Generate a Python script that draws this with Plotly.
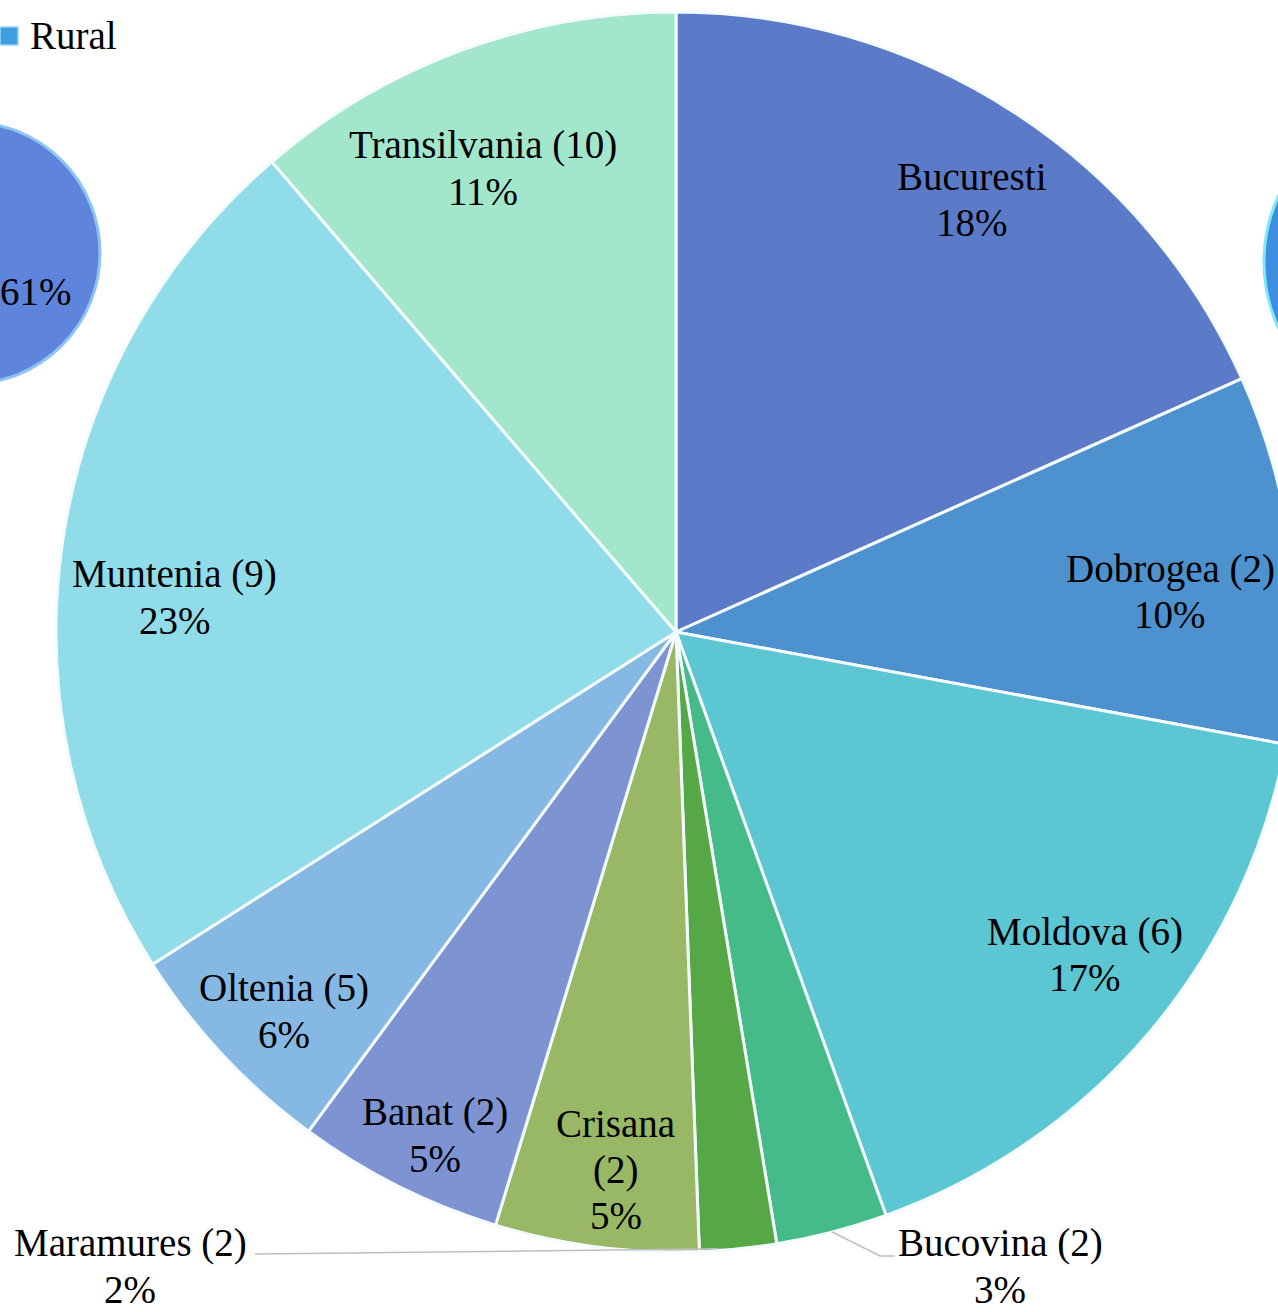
import math
import plotly.graph_objects as go

# ---- data ----
regions = ["Bucuresti", "Dobrogea (2)", "Moldova (6)", "Bucovina (2)", "Maramures (2)",
           "Crisana (2)", "Banat (2)", "Oltenia (5)", "Muntenia (9)", "Transilvania (10)"]
shares = [18.3, 9.6, 16.6, 2.9, 2.0, 5.3, 5.4, 5.9, 22.7, 11.3]
pct_labels = ["18%", "10%", "17%", "3%", "2%", "5%", "5%", "6%", "23%", "11%"]
label_names = ["Bucuresti", "Dobrogea (2)", "Moldova (6)", "Bucovina (2)", "Maramures (2)",
               "Crisana<br>(2)", "Banat (2)", "Oltenia (5)", "Muntenia (9)", "Transilvania (10)"]
colors = ["#5b7bc8", "#4d92cf", "#5cc6d2", "#45bb8a", "#55a845",
          "#98b865", "#7d93d2", "#85b8e2", "#90dce8", "#a2e6cc"]
legend_label = "Rural"
rural_share = "61%"

# ---- layout constants (pixels) ----
W, H = 1300, 1312
CX, CY, R = 676, 632, 620
FONT = "Liberation Serif"
FS = 39
LINE = 46

def px(x):
    return x / W

def py(y):
    return 1 - y / H

# label placement style: radial factor and angular tweak (deg); None = outside label
label_r = [0.845, 0.80, 0.84, None, None, 0.873, 0.90, 0.88, 0.81, 0.81]
label_dang = [1.5, 2.2, -2, 0, 0, -1.0, -1, -1, -4.5, -2.2]
outside_pos = {3: (1000, 1266), 4: (130, 1266)}

fig = go.Figure()
fig.add_trace(go.Pie(
    labels=regions, values=shares, sort=False, direction="clockwise", rotation=0,
    marker=dict(colors=colors, line=dict(color="#f4fbff", width=3)),
    textinfo="none", hoverinfo="skip", showlegend=False,
    domain=dict(x=[px(CX - R), px(CX + R)], y=[py(CY + R), py(CY - R)]),
))

annotations = []
shapes = []

def add_label(text, x, y):
    lines = text.split("<br>")
    n = len(lines)
    for k, ln in enumerate(lines):
        yy = y + (k - (n - 1) / 2) * LINE
        annotations.append(dict(x=px(x), y=py(yy), xref="paper", yref="paper", text=ln,
                                showarrow=False, xanchor="center", yanchor="middle",
                                font=dict(family=FONT, size=FS, color="#000000")))

total = sum(shares)
cum = 0
for i, v in enumerate(shares):
    mid = (cum + v / 2) / total * 360
    cum += v
    text = f"{label_names[i]}<br>{pct_labels[i]}"
    if label_r[i] is not None:
        a = math.radians(mid + label_dang[i])
        x = CX + R * label_r[i] * math.sin(a)
        y = CY - R * label_r[i] * math.cos(a)
        add_label(text, x, y)
    else:
        a = math.radians(mid)
        ex = CX + R * math.sin(a)
        ey = CY - R * math.cos(a)
        lx, ly = outside_pos[i]
        add_label(text, lx, ly)
        if lx < CX:
            pts = [(ex - 20, ey), (lx + 125, ly - 12)]
        else:
            pts = [(ex, ey), (ex + 48, ly - 10), (lx - 105, ly - 10)]
        path = "M " + " L ".join(f"{px(p[0])},{py(p[1])}" for p in pts)
        shapes.append(dict(type="path", path=path, xref="paper", yref="paper",
                           line=dict(color="#bfbfbf", width=1.5)))

# background pieces from neighbouring chart
shapes.append(dict(type="circle", xref="paper", yref="paper",
                   x0=px(-162), x1=px(100), y0=py(384), y1=py(122),
                   fillcolor="#5f84dc", line=dict(color="#8cc4f4", width=3), layer="below"))
shapes.append(dict(type="circle", xref="paper", yref="paper",
                   x0=px(1264), x1=px(1580), y0=py(420), y1=py(104),
                   fillcolor="#3d8ee0", line=dict(color="#7ee8f8", width=3), layer="below"))
shapes.append(dict(type="rect", xref="paper", yref="paper",
                   x0=px(0), x1=px(18), y0=py(45), y1=py(27),
                   fillcolor="#3e9ee0", line=dict(color="#9ad4f4", width=1.5)))
annotations.append(dict(x=px(28), y=py(35), xref="paper", yref="paper", text=legend_label,
                        showarrow=False, xanchor="left", yanchor="middle",
                        font=dict(family=FONT, size=FS, color="#000000")))
annotations.append(dict(x=px(36), y=py(292), xref="paper", yref="paper", text=rural_share,
                        showarrow=False, xanchor="center", yanchor="middle",
                        font=dict(family=FONT, size=FS, color="#000000")))

fig.update_layout(width=W, height=H, margin=dict(l=0, r=0, t=0, b=0),
                  paper_bgcolor="#ffffff", plot_bgcolor="#ffffff",
                  annotations=annotations, shapes=shapes)
fig.write_html("out.html")
